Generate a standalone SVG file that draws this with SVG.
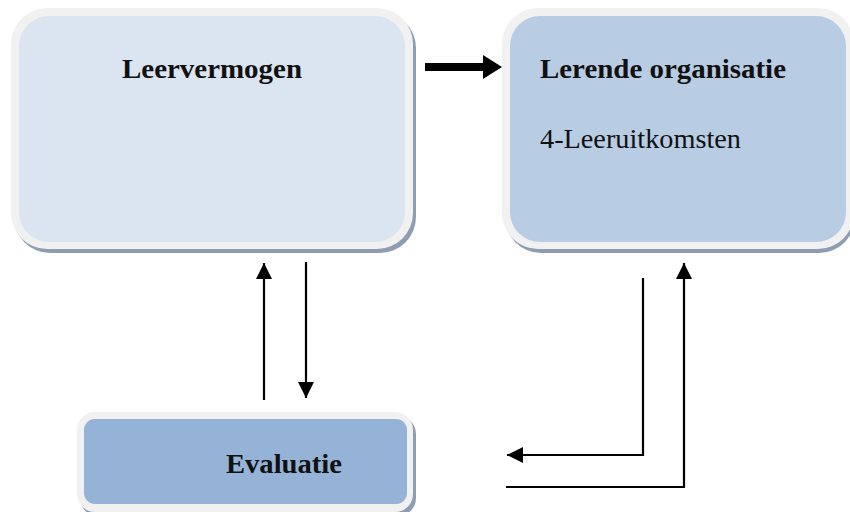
<svg xmlns="http://www.w3.org/2000/svg" width="850" height="512" viewBox="0 0 850 512">
  <style>
    .shadow { fill: #8e9db3; }
    .frame { fill: #f1f1f1; }
    .lbl { font-family: "Liberation Serif", "DejaVu Serif", serif; font-size: 27px; fill: #111; }
    .b { font-weight: bold; }
    .conn { stroke: #000; stroke-width: 2.2; fill: none; }
  </style>
  <defs>
    <marker id="ah" markerUnits="userSpaceOnUse" markerWidth="18" markerHeight="18" refX="16" refY="9" orient="auto">
      <path d="M0,1 L16,9 L0,17 Z" fill="#000"/>
    </marker>
  </defs>

  <g id="node-leervermogen">
    <rect class="shadow" x="14" y="12" width="402" height="241" rx="36"/>
    <rect class="frame" x="11" y="8" width="402" height="241" rx="36"/>
    <rect x="19" y="16" width="386" height="226" rx="30" fill="#dbe5f1"/>
    <text class="lbl b" x="212" y="78" text-anchor="middle" textLength="180" lengthAdjust="spacingAndGlyphs">Leervermogen</text>
  </g>

  <g id="node-lerende-organisatie">
    <rect class="shadow" x="505" y="12" width="350" height="241" rx="36"/>
    <rect class="frame" x="502" y="8" width="352" height="241" rx="36"/>
    <rect x="510" y="16" width="336" height="226" rx="30" fill="#b8cce4"/>
    <text class="lbl b" x="540" y="78" textLength="246" lengthAdjust="spacingAndGlyphs">Lerende organisatie</text>
    <text class="lbl" x="540" y="148" textLength="201" lengthAdjust="spacingAndGlyphs">4-Leeruitkomsten</text>
  </g>

  <g id="node-evaluatie">
    <rect class="shadow" x="80" y="416" width="336" height="100" rx="18"/>
    <rect class="frame" x="77" y="412" width="336" height="100" rx="18"/>
    <rect x="84" y="419" width="323" height="85" rx="11" fill="#95b3d7"/>
    <text class="lbl b" x="284" y="473" text-anchor="middle" textLength="116" lengthAdjust="spacingAndGlyphs">Evaluatie</text>
  </g>

  <g id="connectors">
    <path d="M425,63 L483,63 L483,55 L502,67 L483,79 L483,71 L425,71 Z" fill="#000"/>
    <path class="conn" d="M264,400 L264,263" marker-end="url(#ah)"/>
    <path class="conn" d="M306,262 L306,398" marker-end="url(#ah)"/>
    <path class="conn" d="M643,278 L643,455 L507,455" marker-end="url(#ah)"/>
    <path class="conn" d="M506,487 L684,487 L684,263" marker-end="url(#ah)"/>
  </g>
</svg>
